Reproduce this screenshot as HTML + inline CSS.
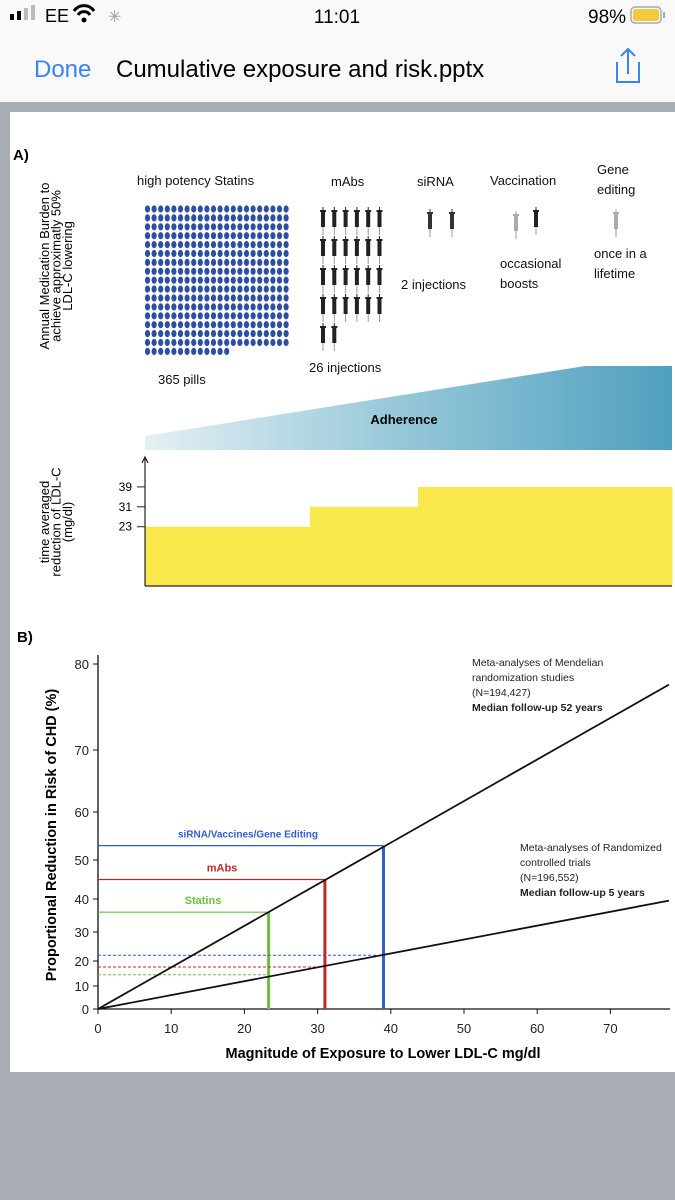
<!DOCTYPE html>
<html><head><meta charset="utf-8">
<style>
html,body{margin:0;padding:0;width:675px;height:1200px;overflow:hidden;background:#a9aeb6;font-family:"Liberation Sans",sans-serif}
svg{display:block}
</style></head>
<body>
<svg id="root" width="675" height="1200" viewBox="0 0 675 1200" xmlns="http://www.w3.org/2000/svg" font-family="Liberation Sans, sans-serif">
<defs>
<linearGradient id="adh" x1="0" x2="1" y1="0" y2="0">
<stop offset="0" stop-color="#e4f0f5"/><stop offset="0.5" stop-color="#94c6d8"/><stop offset="1" stop-color="#4fa0bf"/>
</linearGradient>
</defs>
<rect x="0" y="0" width="675" height="102" fill="#f9f9f9"/>
<g>
<rect x="10" y="14" width="4" height="6" fill="#000"/><rect x="17" y="11" width="4" height="9" fill="#000"/><rect x="24" y="8" width="4" height="12" fill="#bbb"/><rect x="31" y="5" width="4" height="15" fill="#bbb"/>
<text x="45" y="22" font-size="18" fill="#000">EE</text>
<path d="M74 11 a12 12 0 0 1 20 0 M78 15 a7 7 0 0 1 12 0" stroke="#000" stroke-width="3" fill="none"/><circle cx="84" cy="20" r="2.5" fill="#000"/>
<text x="108" y="22" font-size="16" fill="#999">✳</text>
<text x="337" y="23" font-size="19" text-anchor="middle" fill="#000">11:01</text>
<text x="588" y="23" font-size="19" fill="#000">98%</text>
<rect x="631" y="7" width="30" height="16" rx="4" fill="none" stroke="#aaa" stroke-width="1.5"/><rect x="633" y="9" width="26" height="12" rx="2.5" fill="#f5c842"/><rect x="663" y="12" width="2" height="6" fill="#aaa"/>
</g>
<text x="34" y="77" font-size="24" fill="#3a82f7">Done</text>
<text x="116" y="77" font-size="24" fill="#000">Cumulative exposure and risk.pptx</text>
<g stroke="#3a82f7" stroke-width="2" fill="none">
<path d="M617 62 v20 h22 v-20 M628 50 v24 M621 56 l7 -7 l7 7"/>
</g>
<rect x="10" y="112" width="665" height="960" fill="#fff"/>
<text x="13" y="160" font-size="15" font-weight="bold">A)</text>
<text transform="translate(49,266) rotate(-90)" font-size="13" text-anchor="middle"><tspan x="0" y="0">Annual Medication Burden to</tspan><tspan x="0" y="11.5">achieve approximatly 50%</tspan><tspan x="0" y="23">LDL-C lowering</tspan></text>
<g font-size="13" fill="#111">
<text x="137" y="185">high potency Statins</text>
<text x="331" y="186">mAbs</text>
<text x="417" y="186">siRNA</text>
<text x="490" y="185">Vaccination</text>
<text x="597" y="174">Gene</text><text x="597" y="194">editing</text>
<text x="158" y="384">365 pills</text>
<text x="309" y="372">26 injections</text>
<text x="401" y="289">2 injections</text>
<text x="500" y="268">occasional</text><text x="500" y="288">boosts</text>
<text x="594" y="258">once in a</text><text x="594" y="278">lifetime</text>
</g>
<g id="pills"></g>
<g id="syringes"></g>
<path d="M145 436 L585 366 L672 366 L672 450 L145 450 Z" fill="url(#adh)"/>
<text x="404" y="424" font-size="13" font-weight="bold" text-anchor="middle">Adherence</text>
<text transform="translate(49,522) rotate(-90)" font-size="13" text-anchor="middle"><tspan x="0" y="0">time averaged</tspan><tspan x="0" y="11.5">reduction of LDL-C</tspan><tspan x="0" y="23">(mg/dl)</tspan></text>
<g id="stepchart"></g>
<text x="17" y="642" font-size="15" font-weight="bold">B)</text>
<g id="chartb"></g>
<text transform="translate(56,835) rotate(-90)" font-size="14.5" font-weight="bold" text-anchor="middle">Proportional Reduction in Risk of CHD (%)</text>
<text x="383" y="1058" font-size="14.5" font-weight="bold" text-anchor="middle">Magnitude of Exposure to Lower LDL-C mg/dl</text>
<g font-size="10.5" fill="#222">
<text x="472" y="666">Meta-analyses of Mendelian</text><text x="472" y="681">randomization studies</text><text x="472" y="696">(N=194,427)</text><text x="472" y="711" font-weight="bold">Median follow-up 52 years</text>
</g>
<g font-size="10.5" fill="#222">
<text x="520" y="851">Meta-analyses of Randomized</text><text x="520" y="866">controlled trials</text><text x="520" y="881">(N=196,552)</text><text x="520" y="896" font-weight="bold">Median follow-up 5 years</text>
</g>
</svg>
<script>
const pillCount = 365;
const mabInjections = 26;
const stepCategories = ["Statins","mAbs","siRNA/Vaccines/Gene"];
const stepValues = [23, 31, 39];
const stepTicks = [23, 31, 39];
const xTicks = [0,10,20,30,40,50,60,70];
const yTicks = [0,10,20,30,40,50,60,70,80];
const therapyNames = ["Statins","mAbs","siRNA/Vaccines/Gene Editing"];
const therapyExposure = [23.3, 31, 39];
const mrReduction = [36, 45, 53];
const rctReduction = [14.5, 17.6, 22];
const mrLine = [[0,0],[78,77.6]];
const rctLine = [[0,0],[78,39.5]];
const therapyColors = ["#6fbf3a","#c0282b","#2f5fcf"];

const NS="http://www.w3.org/2000/svg";
function mk(parent,tag,attrs){const e=document.createElementNS(NS,tag);for(const k in attrs)e.setAttribute(k,attrs[k]);parent.appendChild(e);return e;}

const pg=document.getElementById('pills');
const cols=22;
for(let i=0;i<pillCount;i++){
  const c=i%cols, r=Math.floor(i/cols);
  const p=mk(pg,'ellipse',{cx:147.5+c*6.6,cy:209+r*8.9,rx:2.6,ry:3.6,fill:'#2d4fa3'});
  
  
}
const sg=document.getElementById('syringes');
function syringe(x,y,col){
  const g=mk(sg,'g',{});
  
  
  mk(g,'rect',{x:x-2,y:y,width:4,height:17,fill:col});
  mk(g,'rect',{x:x-3,y:y,width:6,height:2,fill:col});
  mk(g,'line',{x1:x,y1:y+17,x2:x,y2:y+25,stroke:'#999','stroke-width':1});
  mk(g,'line',{x1:x,y1:y-3,x2:x,y2:y,stroke:col,'stroke-width':1});
}
for(let i=0;i<mabInjections;i++){const c=i%6,r=Math.floor(i/6);syringe(323+c*11.3,210+r*29,'#222');}
syringe(430,212,'#333');syringe(452,212,'#333');
syringe(516,214,'#aaa');syringe(536,210,'#222');syringe(616,212,'#aaa');

const sc=document.getElementById('stepchart');
const sx0=145, sx1=672, sBase=586;
const sY=v=>584-v*2.49;
const stepEdges=[145,310,418,672];
stepValues.forEach((v,i)=>{
  const r=mk(sc,'rect',{x:stepEdges[i],y:sY(v),width:stepEdges[i+1]-stepEdges[i]+0.5,height:sBase-sY(v),fill:'#f8e84c'});
  
  
});
let ax=mk(sc,'path',{d:`M${sx0} ${sBase} V458 M${sx0-3} 463 L${sx0} 457 L${sx0+3} 463 M${sx0} ${sBase} H${sx1}`,stroke:'#222','stroke-width':1.2,fill:'none'});


stepTicks.forEach(t=>{
  mk(sc,'line',{x1:sx0-8,x2:sx0,y1:sY(t),y2:sY(t),stroke:'#222'});
  const tx=mk(sc,'text',{x:sx0-13,y:sY(t)+4,'font-size':12,'text-anchor':'end'});
  tx.textContent=t;
  
  
});

const cb=document.getElementById('chartb');
const xPx=v=>98+v*7.32;
const yTickPx=[1009,986,961,932,899,860,812,750,664];
function yPx(v){
  const i=Math.min(Math.floor(v/10),yTicks.length-2);
  const f=(v-yTicks[i])/10;
  return yTickPx[i]+(yTickPx[i+1]-yTickPx[i])*f;
}
let axes=mk(cb,'path',{d:`M98 655 V1009 H670`,stroke:'#111','stroke-width':1.3,fill:'none'});


xTicks.forEach(t=>{
  mk(cb,'line',{x1:xPx(t),x2:xPx(t),y1:1009,y2:1014,stroke:'#111'});
  const tx=mk(cb,'text',{x:xPx(t),y:1033,'font-size':13,'text-anchor':'middle',fill:'#222'});
  tx.textContent=t;
  
  
});
yTicks.forEach(t=>{
  mk(cb,'line',{x1:93,x2:98,y1:yPx(t),y2:yPx(t),stroke:'#111'});
  const tx=mk(cb,'text',{x:89,y:yPx(t)+5,'font-size':13,'text-anchor':'end',fill:'#222'});
  tx.textContent=t;
  
  
});
therapyExposure.forEach((x,i)=>{
  const col=therapyColors[i];
  const h=mk(cb,'line',{x1:98,x2:xPx(x),y1:yPx(mrReduction[i]),y2:yPx(mrReduction[i]),stroke:col,'stroke-width':1.2});
  
  
  const d=mk(cb,'line',{x1:98,x2:xPx(x),y1:yPx(rctReduction[i]),y2:yPx(rctReduction[i]),stroke:col,'stroke-width':1,'stroke-dasharray':'3,2'});
  
  
  const v=mk(cb,'line',{x1:xPx(x),x2:xPx(x),y1:1009,y2:yPx(mrReduction[i]),stroke:col,'stroke-width':3});
  
  
  const lb=mk(cb,'text',{x:[203,222,248][i],y:yPx(mrReduction[i])-8,'font-size':[11,11,10][i],'font-weight':'bold','text-anchor':'middle',fill:col});
  lb.textContent=therapyNames[i];
  
  
});
[[mrLine,'mr-line'],[rctLine,'rct-line']].forEach(([ln,nm])=>{
  const l=mk(cb,'line',{x1:xPx(ln[0][0]),y1:yPx(ln[0][1]),x2:xPx(ln[1][0]),y2:yPx(ln[1][1]),stroke:'#111','stroke-width':1.8});
  
  
});
</script>
</body></html>
